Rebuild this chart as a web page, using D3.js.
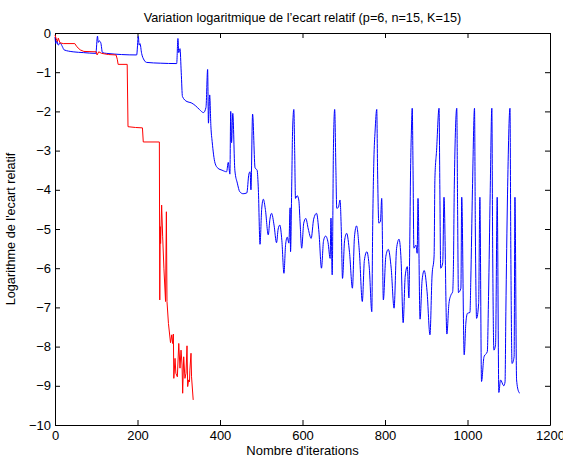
<!DOCTYPE html>
<html>
<head>
<meta charset="utf-8">
<script src="https://cdn.jsdelivr.net/npm/d3@7"></script>
<style>
  body { margin: 0; background: #fff; }
  svg { font-family: "Liberation Sans", Arial, Helvetica, sans-serif; }
  .axis path, .axis line { stroke: #000; }
  .axis text { font-size: 13px; fill: #000; font-family: "Liberation Sans", Arial, sans-serif; }
</style>
</head>
<body>
<div id="container"></div>
<script>
// donnees
let titre = "Variation logaritmique de l\u2019ecart relatif (p=6, n=15, K=15)";
let labelX = "Nombre d'iterations";
let labelY = "Logarithme de l'ecart relatif";
let ticksX = [0, 200, 400, 600, 800, 1000, 1200];
let ticksY = [0, -1, -2, -3, -4, -5, -6, -7, -8, -9, -10];

// courbe bleue
let iterBleu = [0, 2, 4, 8, 12, 18, 22, 44, 69, 99, 103, 105, 107, 111, 115, 125, 198, 202, 204, 206, 210, 216, 222, 255, 295,
  298, 300, 303, 306, 309, 320, 330, 340, 350, 360, 366, 370, 372, 375, 378, 381, 388, 395, 405, 416, 420, 424, 426, 428, 431,
  436, 442, 448, 456, 465, 470, 473, 475, 479, 485, 490, 493, 497, 501, 505, 510, 517, 521, 525, 531, 537, 541, 545, 550, 555,
  559, 563, 567, 570, 571, 574, 576, 579, 581, 583, 587, 591, 594, 598, 603, 608, 614, 621, 627, 634, 640, 646, 651, 656, 662,
  667, 669, 672, 675, 678, 681, 683, 687, 691, 694, 697, 702, 707, 714, 721, 726, 731, 738, 745, 750, 756, 762, 768, 770, 773,
  776, 780, 782, 785, 789, 792, 796, 802, 808, 815, 822, 828, 834, 839, 844, 849, 854, 858, 860, 862, 864, 866, 868, 870, 875,
  878, 880, 885, 890, 895, 902, 909, 914, 919, 921, 925, 931, 933, 935, 940, 943, 950, 955, 960, 964, 966, 968, 974, 976, 978,
  984, 986, 992, 996, 1000, 1006, 1008, 1012, 1017, 1019, 1022, 1027, 1030, 1034, 1040, 1048, 1051, 1055, 1059, 1061, 1064,
  1068, 1072, 1076, 1080, 1088, 1091, 1093, 1097, 1103, 1105, 1108, 1113, 1115, 1119, 1124, 1127];
let valBleu = [-0.1, -0.27, -0.2, -0.31, -0.25, -0.35, -0.43, -0.48, -0.5, -0.52, -0.08, -0.24, -0.2, -0.25, -0.5, -0.52, -0.56, -0.09, -0.31, -0.27, -0.52, -0.69, -0.75, -0.77, -0.78,
  -0.14, -0.5, -0.4, -1.0, -1.62, -1.75, -1.78, -1.85, -1.95, -2.03, -1.9, -0.93, -2.3, -1.58, -2.4, -2.77, -3.32, -3.45, -3.5, -3.54, -3.3, -3.6, -2.0, -2.8, -2.05,
  -3.5, -3.83, -4.05, -4.1, -4.08, -3.6, -3.54, -4.0, -2.07, -3.44, -3.5, -4.0, -5.39, -4.5, -4.24, -4.5, -5.15, -4.75, -4.6, -4.9, -5.35, -5.0, -4.9, -5.3, -6.13,
  -5.4, -5.21, -5.36, -4.46, -5.58, -3.8, -2.47, -1.95, -3.0, -4.22, -4.15, -4.26, -4.8, -5.49, -4.85, -4.73, -5.0, -5.24, -4.75, -4.6, -5.1, -6.0, -5.3, -5.18, -5.35,
  -5.75, -4.72, -6.17, -2.93, -1.95, -3.5, -4.47, -4.45, -4.26, -5.0, -6.26, -5.3, -5.11, -5.6, -6.51, -5.2, -4.92, -5.6, -6.85, -5.8, -5.58, -6.0, -7.11, -5.07, -3.24,
  -2.5, -1.95, -3.5, -4.85, -4.8, -4.22, -6.81, -5.7, -5.52, -6.0, -7.02, -5.5, -5.26, -5.8, -7.39, -6.2, -5.96, -6.76, -5.4, -3.5, -2.5, -1.92, -3.5, -5.49, -5.41,
  -5.62, -4.22, -7.3, -6.3, -6.06, -6.6, -7.7, -6.2, -5.69, -3.71, -3.0, -1.92, -4.0, -6.0, -5.86, -4.19, -7.68, -6.9, -6.68, -6.6, -5.87, -3.9, -1.92, -4.5, -6.62,
  -6.51, -4.19, -8.21, -7.4, -7.15, -7.13, -6.3, -4.0, -1.92, -5.0, -7.28, -6.9, -4.19, -8.89, -8.26, -8.13, -6.72, -4.09, -1.92, -5.5, -8.09,
  -7.95, -4.19, -9.17, -8.85, -9.0, -8.9, -7.11, -4.13, -1.92, -5.5, -8.43, -8.26, -4.19, -8.85, -9.15, -9.19];

// courbe rouge
let iterRouge = [0, 3, 6, 8, 12, 20, 48, 53, 61, 70, 100, 102, 106, 113, 130, 148, 151, 153, 175, 177, 195, 212, 214, 253,
  254, 255, 256, 258.5, 261, 264, 268, 270, 271.5, 275, 280, 283, 285, 287, 288, 291, 293, 296.6, 300, 303, 305.5, 308, 309.5,
  312, 315, 317.6, 320, 321.6, 324, 326, 327, 329.7, 331, 335];
let valRouge = [-0.05, -0.15, -0.22, -0.13, -0.25, -0.27, -0.27, -0.35, -0.43, -0.47, -0.48, -0.56, -0.48, -0.52, -0.55, -0.56, -0.67, -0.8, -0.8, -2.39, -2.41, -2.42, -2.78, -2.78,
  -6.81, -4.94, -5.37, -4.39, -5.2, -6.0, -6.85, -4.56, -6.85, -7.41, -7.9, -7.7, -7.92, -7.68, -8.81, -8.3, -8.68, -8.77, -7.92, -8.55, -8.09, -8.47, -9.19,
  -8.26, -8.81, -8.68, -7.98, -9.02, -8.85, -8.9, -8.6, -8.17, -8.77, -9.36];

//画布
let width = 563, height = 458;
let margin = { left: 55, right: 13, top: 33, bottom: 33 };
let svg = d3.select("#container")
  .append("svg")
  .attr("width", width)
  .attr("height", height);

//比例尺
let xScale = d3.scaleLinear().domain([0, 1200]).range([margin.left, width - margin.right]);
let yScale = d3.scaleLinear().domain([-10, 0]).range([height - margin.bottom, margin.top]);

//坐标轴 (ticks vers l'interieur, style matlab)
svg.append("g").attr("class", "axis")
  .attr("transform", "translate(0," + yScale(-10) + ")")
  .call(d3.axisBottom(xScale).tickValues(ticksX).tickFormat(d3.format("d")).tickSizeInner(-5).tickSizeOuter(0).tickPadding(6));
svg.append("g").attr("class", "axis")
  .attr("transform", "translate(" + xScale(0) + ",0)")
  .call(d3.axisLeft(yScale).tickValues(ticksY).tickSizeInner(-5).tickSizeOuter(0).tickPadding(4));
svg.append("g").attr("class", "axis")
  .attr("transform", "translate(0," + yScale(0) + ")")
  .call(d3.axisTop(xScale).tickValues(ticksX).tickSizeInner(-5).tickSizeOuter(0).tickFormat(""));
svg.append("g").attr("class", "axis")
  .attr("transform", "translate(" + xScale(1200) + ",0)")
  .call(d3.axisRight(yScale).tickValues(ticksY).tickSizeInner(-5).tickSizeOuter(0).tickFormat(""));

//courbes
let lineBleu = d3.line()
  .x(d => xScale(d[0]))
  .y(d => yScale(d[1]))
  .curve(d3.curveMonotoneX);
let lineRouge = d3.line()
  .x(d => xScale(d[0]))
  .y(d => yScale(d[1]));

let bleu = iterBleu.map((x, i) => [x, valBleu[i]]);
let rouge = iterRouge.map((x, i) => [x, valRouge[i]]);

svg.append("path").datum(bleu)
  .attr("d", lineBleu)
  .attr("fill", "none")
  .attr("stroke", "#0000ff")
  .attr("stroke-width", 1);

svg.append("path").datum(rouge)
  .attr("d", lineRouge)
  .attr("fill", "none")
  .attr("stroke", "#ff0000")
  .attr("stroke-width", 1);

//textes
svg.append("text")
  .attr("x", (xScale(0) + xScale(1200)) / 2)
  .attr("y", 22)
  .attr("text-anchor", "middle")
  .style("font-size", "12.7px")
  .text(titre);

svg.append("text")
  .attr("x", (xScale(0) + xScale(1200)) / 2)
  .attr("y", 455)
  .attr("text-anchor", "middle")
  .style("font-size", "13px")
  .text(labelX);

svg.append("text")
  .attr("transform", "translate(15," + (yScale(-5)) + ") rotate(-90)")
  .attr("text-anchor", "middle")
  .style("font-size", "12.7px")
  .text(labelY);
</script>
</body>
</html>
